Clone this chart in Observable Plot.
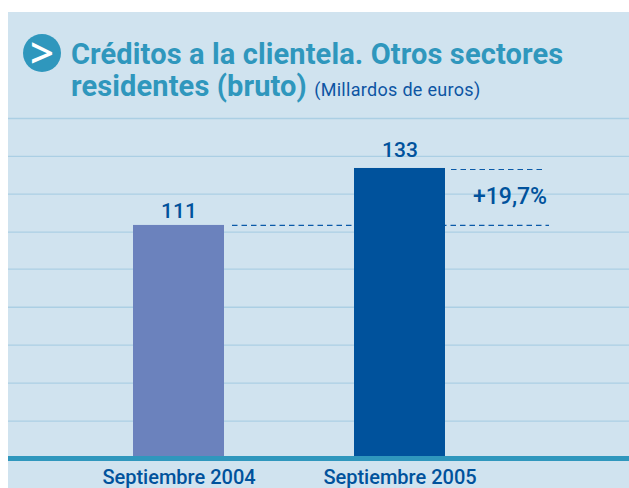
<!DOCTYPE html>
<html lang="es">
<head>
<meta charset="utf-8">
<script src="https://cdn.jsdelivr.net/npm/d3@7"></script>
<script src="https://cdn.jsdelivr.net/npm/@observablehq/plot@0.6"></script>
<style>
  html, body { margin: 0; padding: 0; background: #fff; }
  #page { position: relative; width: 629px; height: 488px; overflow: hidden; }
  #panel { position: absolute; left: 8px; top: 12px; right: 0; bottom: 0; background: #d0e3ef; }
  #bullet { position: absolute; left: 23px; top: 34px; width: 38px; height: 38px; border-radius: 50%; background: #2f97bd; color: #fff;
    font: 600 42px/35px "Open Sans", sans-serif; text-align: center; }
  #title { position: absolute; left: 71px; top: 38px; margin: 0; white-space: nowrap; color: #2f97bd;
    font: 700 29px/32px Roboto, sans-serif; letter-spacing: 0.12px; }
  #title small { color: #0d55a3; font: 400 18px Roboto, sans-serif; letter-spacing: 0.3px; }
  #chart { position: absolute; left: 0; top: 112px; }
  #chart svg { background: transparent; overflow: visible; }
</style>
</head>
<body>
<div id="page">
  <div id="panel"></div>
  <div id="bullet">&gt;</div>
  <h1 id="title">Créditos a la clientela. Otros sectores<br>residentes (bruto) <small>(Millardos de euros)</small></h1>
  <div id="chart"></div>
</div>
<script>
const periods = ["Septiembre 2004", "Septiembre 2005"];
const values = [111, 133];
const changeLabel = "+19,7%";
const gridValues = [152.3, 137.7, 123.1, 108.4, 94.1, 79.4, 64.8, 50.1, 35.4];
const axisBase = 21;

const rows = periods.map((period, i) => ({period, value: values[i]}));
const blue = "#00529c";
const font = "Roboto, sans-serif";

const plot = Plot.plot({
  width: 629,
  height: 376,
  marginTop: 0, marginBottom: 0, marginLeft: 8, marginRight: 0,
  style: {background: "transparent", overflow: "visible"},
  x: {type: "band", domain: periods, range: [3, 575], padding: 0.588, axis: null},
  y: {domain: [axisBase, gridValues[0]], range: [346, 6], axis: null},
  color: {type: "ordinal", domain: periods, range: ["#6b82bd", blue]},
  marks: [
    Plot.ruleY(gridValues, {stroke: "#abcfe4", strokeWidth: 1.3}),
    Plot.ruleY([values[0]], {stroke: "#0a5aa8", strokeWidth: 1.2, strokeDasharray: "5.5 4", insetLeft: 224, insetRight: 80}),
    Plot.ruleY([values[1]], {stroke: "#0a5aa8", strokeWidth: 1.2, strokeDasharray: "5.5 4", insetLeft: 443, insetRight: 83, dy: 1}),
    Plot.barY(rows, {x: "period", y1: axisBase, y2: "value", fill: "period"}),
    Plot.ruleY([axisBase], {stroke: "#2f97bd", strokeWidth: 5}),
    Plot.text(rows.slice(0, 1), {x: "period", y: "value", text: d => String(d.value), dy: -14, fill: blue, fontSize: 21, fontWeight: 500, fontFamily: font, letterSpacing: "1.5px"}),
    Plot.text(rows.slice(1), {x: "period", y: "value", text: d => String(d.value), dy: -18.5, fill: blue, fontSize: 21, fontWeight: 500, fontFamily: font, letterSpacing: "1.5px"}),
    Plot.text([changeLabel], {x: () => periods[1], y: () => (values[0] + values[1]) / 2, dx: 110, fill: blue, fontSize: 23, fontWeight: 500, fontFamily: font, letterSpacing: "0.8px"}),
    Plot.text(rows, {x: "period", y: axisBase, text: "period", dy: 19, fill: blue, fontSize: 20, fontWeight: 500, fontFamily: font, letterSpacing: "1.35px"})
  ]
});
document.getElementById("chart").append(plot);
</script>
</body>
</html>
